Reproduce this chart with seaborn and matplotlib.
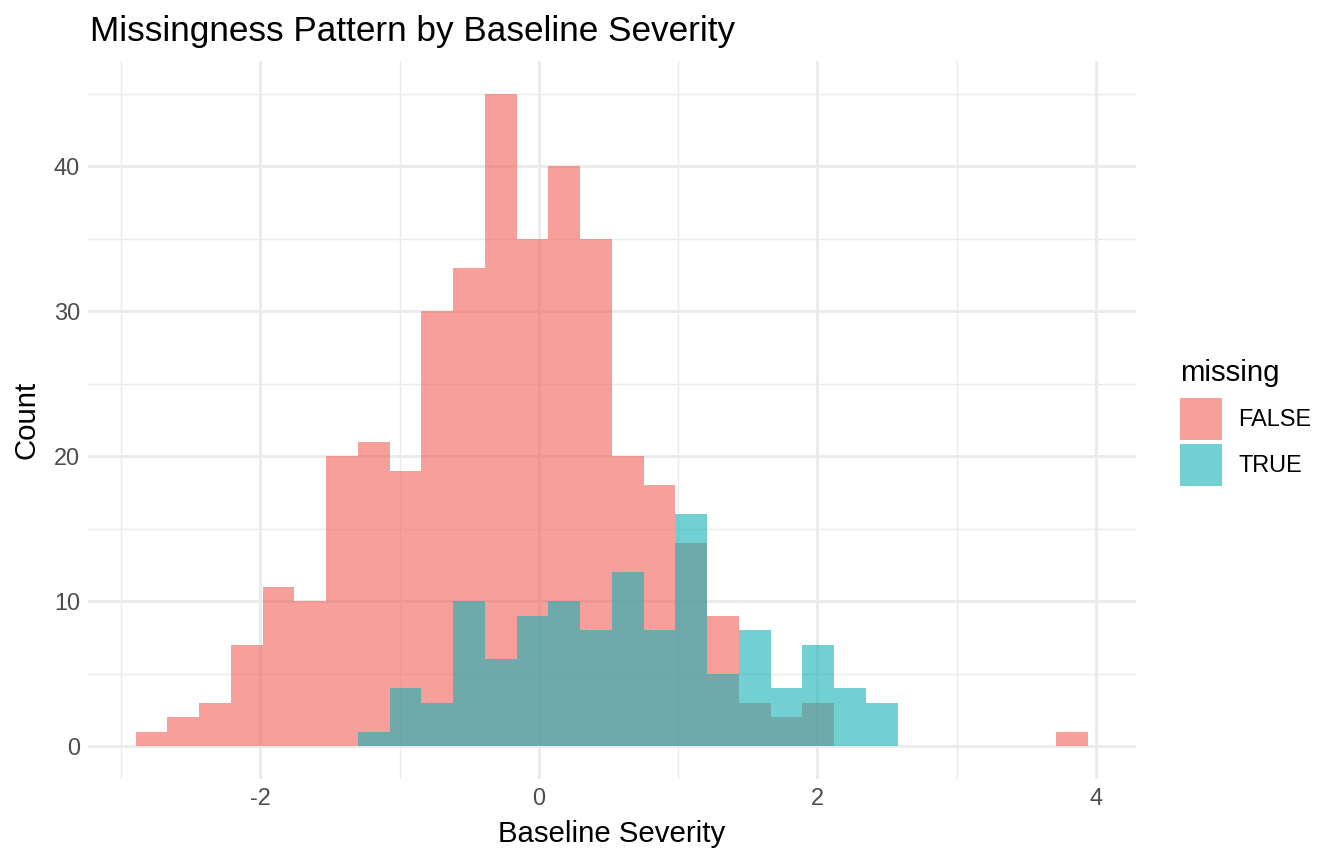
import numpy as np
import pandas as pd
import seaborn as sns
import matplotlib
matplotlib.use("Agg")
import matplotlib.pyplot as plt
from matplotlib.patches import Patch
from matplotlib.ticker import MultipleLocator

# ---- data (counts per bin, 30 shared bins) ----
bin_lo = -2.895
bin_hi = 3.944
n_bins = 30
counts_false = [1, 2, 3, 7, 11, 10, 20, 21, 19, 30,
                33, 45, 35, 40, 35, 20, 18, 14, 9, 3,
                2, 3, 0, 0, 0, 0, 0, 0, 0, 1]
counts_true = [0, 0, 0, 0, 0, 0, 0, 1, 4, 3,
               10, 6, 9, 10, 8, 12, 8, 16, 5, 8,
               4, 7, 4, 3, 0, 0, 0, 0, 0, 0]
groups = ["FALSE", "TRUE"]
colors = {"FALSE": "#F35F57", "TRUE": "#14B2B7"}
fill_alpha = 0.6

edges = np.linspace(bin_lo, bin_hi, n_bins + 1)
centers = (edges[:-1] + edges[1:]) / 2
df = pd.DataFrame({
    "severity": np.concatenate([centers, centers]),
    "count": np.concatenate([counts_false, counts_true]),
    "missing": ["FALSE"] * n_bins + ["TRUE"] * n_bins,
})

sns.set_theme(style="white")
plt.rcParams["font.family"] = ["Liberation Sans", "DejaVu Sans"]
plt.rcParams["axes.unicode_minus"] = False
plt.rcParams["text.color"] = "black"
plt.rcParams["axes.labelcolor"] = "black"

fig = plt.figure(figsize=(7, 4.5), dpi=192)
ax = fig.add_axes([0.0655, 0.0988, 0.845 - 0.0655, 0.929 - 0.0988])

for g in groups:
    sub = df[df["missing"] == g]
    sns.histplot(data=sub, x="severity", weights="count", bins=edges.tolist(),
                 color=colors[g], alpha=fill_alpha, linewidth=0, edgecolor="none",
                 element="bars", ax=ax, zorder=2)

rng = bin_hi - bin_lo
ax.set_xlim(bin_lo - 0.05 * rng, bin_hi + 0.05 * rng)
ax.set_ylim(-2.25, 47.25)
ax.xaxis.set_major_locator(MultipleLocator(2))
ax.xaxis.set_minor_locator(MultipleLocator(1))
ax.yaxis.set_major_locator(MultipleLocator(10))
ax.yaxis.set_minor_locator(MultipleLocator(5))
ax.grid(True, which="major", color="#EBEBEB", linewidth=1.1, zorder=0)
ax.grid(True, which="minor", color="#EBEBEB", linewidth=0.55, zorder=0)
ax.set_axisbelow(True)
for s in ax.spines.values():
    s.set_visible(False)
ax.tick_params(axis="both", which="both", length=0, labelsize=8.8,
               labelcolor="#4D4D4D", pad=3)
ax.set_xlabel("Baseline Severity", fontsize=11, color="black", labelpad=4)
ax.set_ylabel("Count", fontsize=11, color="black", labelpad=5)
fig.text(0.067, 0.963, "Missingness Pattern by Baseline Severity",
         fontsize=13.2, ha="left", va="center", color="black")

handles = [Patch(facecolor=colors[g], alpha=fill_alpha, edgecolor="none") for g in groups]
leg = fig.legend(handles, groups, title="missing", loc="upper left",
                 bbox_to_anchor=(0.869, 0.598), frameon=False, fontsize=8.8,
                 title_fontsize=11, handlelength=1.79, handleheight=2.37,
                 labelspacing=0.17, handletextpad=0.72, borderpad=0)
leg._legend_box.align = "left"
leg._legend_box.sep = 4.2
for t in leg.get_texts():
    t.set_color("black")

fig.savefig("out.png", dpi=192, facecolor="white")
